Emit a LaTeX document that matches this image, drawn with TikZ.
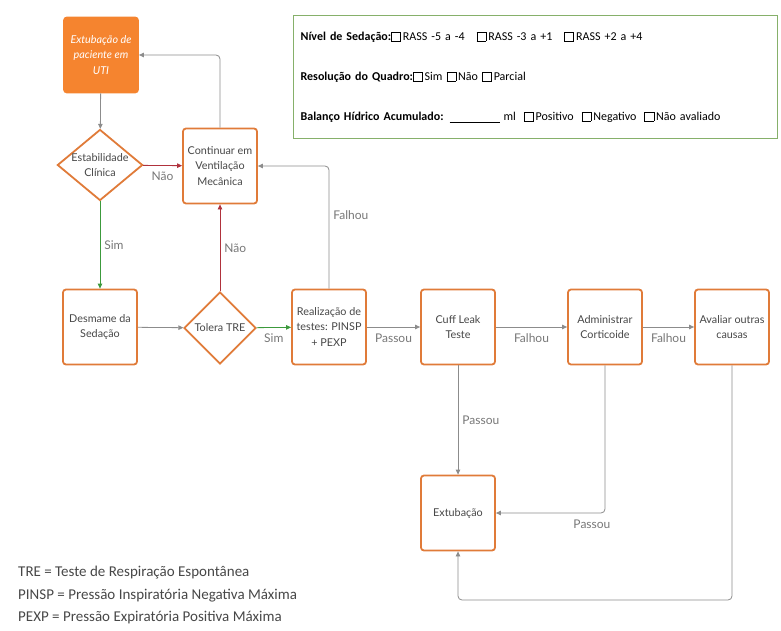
\documentclass[tikz,border=0pt]{standalone}
\usepackage{fontspec}
\setmainfont{Lato}
\newfontfamily\calib{Carlito}
\usetikzlibrary{arrows.meta,shapes.geometric}
\definecolor{boxorange}{HTML}{E07B39}
\definecolor{startorange}{HTML}{F5842F}
\definecolor{txtgray}{HTML}{474747}
\definecolor{lblgray}{HTML}{777777}
\definecolor{linegray}{HTML}{8C8C8C}
\definecolor{noRed}{HTML}{B0323C}
\definecolor{simGreen}{HTML}{3C9A3C}
\definecolor{frameGreen}{HTML}{86B06A}
\setlength{\fboxsep}{0pt}
\setlength{\fboxrule}{0.6pt}
\newcommand{\chkbox}{\fbox{\rule{0pt}{8.5pt}\hspace{8.5pt}}\,}

\begin{document}
\begin{tikzpicture}[x=1pt, y=-1pt,
  >={Triangle[length=5pt,width=4.5pt]},
  bx/.style={draw=boxorange, line width=1.8pt, rounded corners=3pt, fill=white,
             minimum width=74pt, minimum height=75pt, inner sep=2pt,
             align=center, text=txtgray, font=\fontsize{10.8}{15.5}\selectfont},
  start/.style={bx, fill=startorange, draw=startorange, text=white,
                font=\fontsize{10.8}{15.5}\selectfont\itshape},
  dec/.style={diamond, draw=boxorange, line width=1.8pt, fill=white,
              shape aspect=1.2, inner sep=0pt, align=center, text=txtgray,
              font=\fontsize{10.8}{15.5}\selectfont},
  info/.style={draw=frameGreen, line width=1.2pt, text width=470pt,
               minimum height=123pt, inner xsep=7pt, align=left,
               font=\calib\fontsize{12}{14}\selectfont},
  siglas/.style={inner sep=0pt, align=left, text=txtgray,
                 font=\calib\fontsize{15}{22.5}\selectfont},
  e/.style={->, line width=0.8pt, draw=linegray, rounded corners=4pt},
  no/.style={e, draw=noRed},
  yes/.style={e, draw=simGreen},
  lbl/.style={font=\fontsize{12}{14}\selectfont, text=lblgray, inner sep=1pt}
]
  \useasboundingbox (0,0) rectangle (781,631);
  % caixa de avaliacao
  \node[info, anchor=north west] (quadro) at (293,15) {%
    \textbf{Nível de Sedação:}\chkbox RASS -5 a -4\quad\chkbox RASS -3 a +1\quad\chkbox RASS +2 a +4\\[26pt]
    \textbf{Resolução do Quadro:}\chkbox Sim \chkbox Não \chkbox Parcial\\[26pt]
    \textbf{Balanço Hídrico Acumulado:} \underline{\hspace{50pt}} ml \ \chkbox Positivo \ \chkbox Negativo \ \chkbox Não avaliado};
  % coluna da esquerda
  \node[start] (inicio) at (101,55) {Extubação de\\paciente em\\UTI};
  \node[dec] (estab) at (100,165) {Estabilidade\\Clínica};
  \node[bx] (cont) at (220,166) {Continuar em\\Ventilação\\Mecânica};
  % linha central
  \node[bx] (desm) at (100,327) {Desmame da\\Sedação};
  \node[dec, minimum width=72pt, minimum height=72pt] (tol) at (220,328) {Tolera TRE};
  \node[bx] (real) at (329,327) {Realização de\\testes: PINSP\\+ PEXP};
  \node[bx] (cuff) at (458,327) {Cuff Leak\\Teste};
  \node[bx] (adm) at (605,327) {Administrar\\Corticoide};
  \node[bx] (aval) at (732,327) {Avaliar outras\\causas};
  % saida
  \node[bx] (ext) at (458,513) {Extubação};
  \coordinate (fundo) at (458,600);
  % legenda
  \node[siglas, anchor=north west] (leg) at (18,566) {TRE = Teste de Respiração Espontânea\\
    PINSP = Pressão Inspiratória Negativa Máxima\\
    PEXP = Pressão Expiratória Positiva Máxima};
  % conexoes
  \draw[e] (inicio) -- (estab);
  \draw[no] (estab) -- (cont) node[lbl, midway, below=5pt] (n1) {Não};
  \draw[yes] (estab) -- (desm) node[lbl, midway, right=3pt] (s1) {Sim};
  \draw[e] (desm) -- (tol);
  \draw[yes] (tol) -- (real) node[lbl, midway, below=5pt] (s2) {Sim};
  \draw[no] (tol) -- (cont) node[lbl, midway, right=3pt] (n2) {Não};
  \draw[e] (real.north) |- (cont.east) node[lbl, pos=0.3, right=3pt] (f1) {Falhou};
  \draw[e] (cont.north) |- (inicio.east);
  \draw[e] (real) -- (cuff) node[lbl, midway, below=5pt] (p1) {Passou};
  \draw[e] (cuff) -- (adm) node[lbl, midway, below=5pt] (f2) {Falhou};
  \draw[e] (adm) -- (aval) node[lbl, midway, below=5pt] (f3) {Falhou};
  \draw[e] (cuff) -- (ext) node[lbl, midway, right=3pt] (p2) {Passou};
  \draw[e] (adm.south) |- (ext.east) node[lbl, pos=0.56, below=5pt] (p3) {Passou};
  \draw[e] (aval.south) |- (fundo) -- (ext.south);
\end{tikzpicture}
\end{document}
